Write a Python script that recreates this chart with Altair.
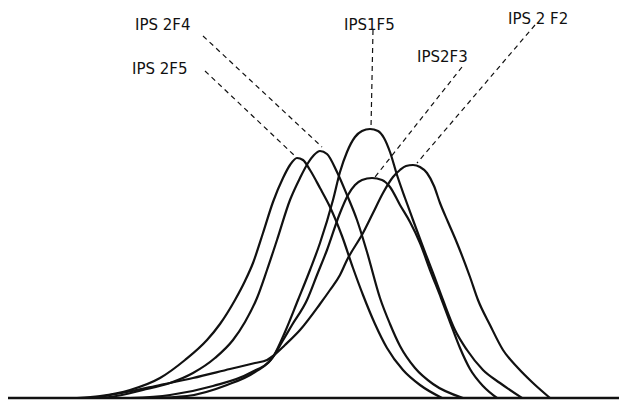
import altair as alt
import pandas as pd

# ---- curve data: x position and height above the baseline ----
ips2f5_x = [77, 100, 130, 160, 185, 207, 220, 235, 245, 253, 263, 273, 283, 290, 297, 303, 310, 320, 330, 342, 353, 363, 375, 387, 403, 420, 442]
ips2f5_h = [0, 2, 8, 20, 38, 58, 74, 98, 117, 135, 165, 196, 220, 233, 240, 238, 228, 210, 191, 162, 130, 103, 74, 50, 28, 13, 0]

ips2f4_x = [95, 110, 143, 170, 193, 215, 233, 245, 257, 267, 277, 290, 300, 308, 314, 320, 327, 337, 347, 357, 367, 380, 390, 400, 415, 433, 463]
ips2f4_h = [0, 1, 8, 15, 25, 40, 58, 76, 100, 128, 158, 198, 220, 235, 243, 247, 244, 226, 203, 178, 146, 100, 74, 52, 30, 14, 0]

ips1f5_x = [150, 187, 227, 255, 273, 285, 298, 310, 320, 333, 340, 347, 355, 362, 370, 378, 384, 390, 397, 405, 413, 423, 433, 443, 455, 467, 483, 500, 522]
ips1f5_h = [0, 2, 13, 26, 41, 66, 98, 128, 155, 198, 226, 246, 261, 267, 269, 267, 260, 246, 223, 200, 178, 151, 125, 98, 68, 48, 28, 15, 0]

ips2f3_x = [130, 170, 213, 250, 273, 282, 292, 307, 317, 327, 340, 348, 355, 362, 372, 382, 390, 400, 410, 420, 430, 441, 450, 460, 470, 483, 497]
ips2f3_h = [0, 3, 12, 25, 41, 56, 73, 98, 123, 148, 185, 203, 213, 218, 220, 218, 211, 193, 176, 155, 128, 100, 76, 50, 29, 12, 0]

ips2f2_x = [93, 127, 160, 193, 230, 255, 267, 273, 285, 300, 320, 330, 340, 347, 363, 373, 383, 393, 400, 406, 413, 420, 427, 434, 440, 448, 457, 470, 478, 490, 503, 518, 533, 550]
ips2f2_h = [0, 6, 13, 20, 29, 35, 38, 42, 53, 68, 94, 108, 123, 138, 165, 185, 205, 221, 228, 232, 233, 231, 225, 212, 195, 176, 155, 121, 98, 73, 48, 30, 15, 0]

# ---- labels and leader lines ----
label_names = ["IPS 2F4", "IPS 2F5", "IPS1F5", "IPS2F3", "IPS 2 F2"]
label_x = [135, 132, 344, 417, 508]
label_h = [373, 329, 373, 341, 379]

leader_x1 = [203, 205, 373, 462, 535]
leader_h1 = [362, 327, 368, 331, 373]
leader_x2 = [322, 295, 371, 375, 417]
leader_h2 = [251, 242, 270, 221, 235]

baseline_x = [8, 620]

series = {
    "IPS2F5": (ips2f5_x, ips2f5_h),
    "IPS2F4": (ips2f4_x, ips2f4_h),
    "IPS1F5": (ips1f5_x, ips1f5_h),
    "IPS2F3": (ips2f3_x, ips2f3_h),
    "IPS2F2": (ips2f2_x, ips2f2_h),
}
rows = []
for name, (xs_, hs_) in series.items():
    for x, h in zip(xs_, hs_):
        rows.append({"series": name, "x": x, "h": h})
curves_df = pd.DataFrame(rows)

lead_rows = []
for i, name in enumerate(label_names):
    lead_rows.append({"lab": name, "x": leader_x1[i], "h": leader_h1[i], "o": 0})
    lead_rows.append({"lab": name, "x": leader_x2[i], "h": leader_h2[i], "o": 1})
lead_df = pd.DataFrame(lead_rows)

lab_df = pd.DataFrame({"lab": label_names, "x": label_x, "h": label_h})
base_df = pd.DataFrame({"x": [baseline_x[0]], "x2": [baseline_x[1]], "h": [0]})

xs = alt.Scale(domain=[8, 619], nice=False, zero=False)
ys = alt.Scale(domain=[0, 390], nice=False, zero=False)

curves = alt.Chart(curves_df).mark_line(
    interpolate="monotone", color="#111111", strokeWidth=2.2
).encode(
    x=alt.X("x:Q", scale=xs, axis=None),
    y=alt.Y("h:Q", scale=ys, axis=None),
    detail="series:N",
    order="x:Q",
)

leaders = alt.Chart(lead_df).mark_line(
    color="#111111", strokeWidth=1.2, strokeDash=[5, 4]
).encode(
    x=alt.X("x:Q", scale=xs, axis=None),
    y=alt.Y("h:Q", scale=ys, axis=None),
    detail="lab:N",
    order="o:Q",
)

labels = alt.Chart(lab_df).mark_text(
    align="left", baseline="middle", font="DejaVu Sans", fontSize=15, color="#111111"
).encode(
    x=alt.X("x:Q", scale=xs, axis=None),
    y=alt.Y("h:Q", scale=ys, axis=None),
    text="lab:N",
)

baseline = alt.Chart(base_df).mark_rule(color="#111111", strokeWidth=2.5).encode(
    x=alt.X("x:Q", scale=xs, axis=None),
    x2="x2:Q",
    y=alt.Y("h:Q", scale=ys, axis=None),
)

chart = alt.layer(baseline, curves, leaders, labels).properties(
    width=611,
    height=390,
    autosize=alt.AutoSizeParams(type="none"),
    padding={"left": 0, "right": 0, "top": 0, "bottom": 3},
    background="white",
).configure_view(stroke=None, strokeWidth=0)

chart.save("out.html", embed_options={"renderer": "svg", "actions": False})
